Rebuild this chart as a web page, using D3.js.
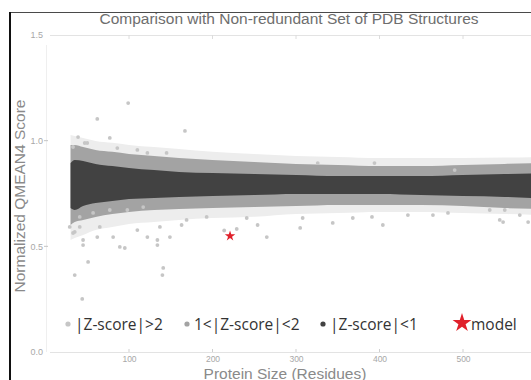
<!DOCTYPE html>
<html>
<head>
<meta charset="utf-8">
<script src="https://cdn.jsdelivr.net/npm/d3@7"></script>
<style>
  html, body { margin: 0; padding: 0; background: #fff; }
  svg { display: block; }
</style>
</head>
<body>
<svg id="chart" width="531" height="380"></svg>
<script>
// Reference set: envelopes of the PDB point cloud by protein size (residues)
const bandSizes = [30, 35, 45, 60, 80, 100, 130, 160, 200, 250, 300, 350, 400, 450, 500, 550, 600];
// |Z-score| < 1 envelope
const darkHi = [0.894, 0.909, 0.904, 0.890, 0.880, 0.871, 0.861, 0.852, 0.847, 0.842, 0.838, 0.833, 0.833, 0.833, 0.838, 0.842, 0.847];
const darkLo = [0.681, 0.672, 0.691, 0.705, 0.715, 0.724, 0.729, 0.734, 0.738, 0.743, 0.748, 0.748, 0.748, 0.743, 0.738, 0.734, 0.724];
// 1 < |Z-score| < 2 envelope
const midHi = [0.980, 0.980, 0.970, 0.956, 0.947, 0.937, 0.928, 0.918, 0.909, 0.899, 0.890, 0.885, 0.880, 0.880, 0.885, 0.890, 0.894];
const midLo = [0.601, 0.615, 0.625, 0.639, 0.653, 0.663, 0.672, 0.677, 0.681, 0.686, 0.691, 0.696, 0.696, 0.696, 0.691, 0.681, 0.677];
// dense part of the |Z-score| > 2 fringe
const lightHi = [1.027, 1.022, 1.013, 0.999, 0.990, 0.980, 0.970, 0.961, 0.947, 0.937, 0.928, 0.923, 0.918, 0.918, 0.918, 0.920, 0.923];
const lightLo = [0.530, 0.540, 0.554, 0.577, 0.592, 0.606, 0.615, 0.625, 0.634, 0.640, 0.653, 0.658, 0.663, 0.663, 0.658, 0.653, 0.648];

// Individual |Z-score| > 2 structures
const outlierSizes = [99, 62, 167, 39, 50, 77, 326, 394, 490, 45, 51, 35, 44, 141, 140, 95, 122, 134, 81, 62, 41, 35,
  305, 308, 344, 404, 434, 464, 482, 544, 550, 568, 368, 391, 532, 548, 578, 169, 193, 241, 254, 265, 163, 229, 214,
  47, 33, 86, 110, 122, 145, 41, 57, 77, 98, 117, 65, 110, 137, 149, 33, 29, 45, 89, 134];
const outlierScores = [1.178, 1.103, 1.046, 1.017, 0.989, 1.013, 0.894, 0.894, 0.861, 0.506, 0.426, 0.364, 0.251, 0.398, 0.364, 0.492, 0.544, 0.530, 0.544, 0.544, 0.592, 0.568,
  0.587, 0.634, 0.611, 0.601, 0.648, 0.648, 0.658, 0.625, 0.672, 0.648, 0.634, 0.639, 0.672, 0.615, 0.615, 0.625, 0.639, 0.634, 0.601, 0.544, 0.601, 0.582, 0.575,
  0.989, 0.970, 0.965, 0.956, 0.942, 0.942, 0.639, 0.658, 0.672, 0.672, 0.686, 0.592, 0.577, 0.592, 0.544, 0.563, 0.592, 0.530, 0.497, 0.506];

// The model being assessed
const modelSize = [221];
const modelScore = [0.549];

const xTicks = [100, 200, 300, 400, 500];
const yTicks = [0.0, 0.5, 1.0, 1.5];
const legendLabels = ["|Z-score|>2", "1<|Z-score|<2", "|Z-score|<1", "model"];

const colors = { light: "#c6c6c6", mid: "#a3a3a3", dark: "#424242", model: "#e0212b" };

const svg = d3.select("#chart");
const x = d3.scaleLinear().domain([0, 600]).range([45.5, 546.5]);
const y = d3.scaleLinear().domain([0, 1.5]).range([352, 35]);

// frame edges
svg.append("line").attr("x1", 9).attr("x2", 531).attr("y1", 12.5).attr("y2", 12.5)
  .attr("stroke", "#4a4a4a").attr("stroke-width", 1.2);
svg.append("line").attr("x1", 10).attr("x2", 10).attr("y1", 12).attr("y2", 380)
  .attr("stroke", "#111").attr("stroke-width", 2);

// faint panel guides
svg.append("line").attr("x1", 46.5).attr("x2", 46.5).attr("y1", 45).attr("y2", 352)
  .attr("stroke", "#efefef");
[0, 1.5].forEach(v => {
  svg.append("line").attr("x1", 50).attr("x2", 531).attr("y1", y(v) + 0.5).attr("y2", y(v) + 0.5)
    .attr("stroke", "#e3e3e3");
});

// x axis
const xAxis = d3.axisBottom(x).tickValues(xTicks).tickSize(0).tickPadding(4);
const gx = svg.append("g").attr("transform", `translate(0,${y(0)})`).call(xAxis);
gx.select(".domain").remove();
gx.selectAll("text").attr("font-family", "Liberation Sans, Arial, sans-serif")
  .attr("font-size", 8.5).attr("fill", "#a8a8a8");
xTicks.forEach(t => {
  svg.append("line").attr("x1", x(t)).attr("x2", x(t)).attr("y1", y(0) - 3).attr("y2", y(0))
    .attr("stroke", "#cfcfcf");
  svg.append("line").attr("x1", x(t)).attr("x2", x(t)).attr("y1", y(1.5)).attr("y2", y(1.5) + 4)
    .attr("stroke", "#dcdcdc");
});

// y axis
const yAxis = d3.axisLeft(y).tickValues(yTicks).tickFormat(d3.format(".1f")).tickSize(0).tickPadding(0);
const gy = svg.append("g").attr("transform", "translate(43,0)").call(yAxis);
gy.select(".domain").remove();
gy.selectAll("text").attr("font-family", "Liberation Sans, Arial, sans-serif")
  .attr("font-size", 9).attr("fill", "#a8a8a8");
[0.5, 1.0].forEach(v => {
  svg.append("line").attr("x1", 44).attr("x2", 48).attr("y1", y(v)).attr("y2", y(v))
    .attr("stroke", "#c4c4c4");
});

// point cloud bands
const bands = [
  { hi: lightHi, lo: lightLo, fill: "#ededed" },
  { hi: midHi, lo: midLo, fill: colors.mid },
  { hi: darkHi, lo: darkLo, fill: colors.dark }
];
const area = d3.area()
  .x(d => x(d.r)).y0(d => y(d.lo)).y1(d => y(d.hi))
  .curve(d3.curveMonotoneX);
bands.forEach(b => {
  const rows = bandSizes.map((r, i) => ({ r, hi: b.hi[i], lo: b.lo[i] }));
  svg.append("path").datum(rows).attr("d", area).attr("fill", b.fill);
});

// outliers
svg.append("g").selectAll("circle")
  .data(outlierSizes.map((r, i) => ({ r, v: outlierScores[i] })))
  .join("circle")
  .attr("cx", d => x(d.r)).attr("cy", d => y(d.v)).attr("r", 1.9)
  .attr("fill", colors.light);

// model star
svg.append("g").selectAll("path")
  .data(modelSize.map((r, i) => ({ r, v: modelScore[i] })))
  .join("path")
  .attr("transform", d => `translate(${x(d.r)},${y(d.v)})`)
  .attr("d", d3.symbol(d3.symbolStar, 34)())
  .attr("fill", colors.model);

// title and axis titles
svg.append("text").attr("x", 289).attr("y", 24).attr("text-anchor", "middle")
  .attr("font-family", "Liberation Sans, Arial, sans-serif").attr("font-size", 15.5)
  .attr("fill", "#6e6e6e").text("Comparison with Non-redundant Set of PDB Structures");
svg.append("text").attr("x", 285).attr("y", 378.5).attr("text-anchor", "middle")
  .attr("font-family", "Liberation Sans, Arial, sans-serif").attr("font-size", 15.5)
  .attr("fill", "#8a8a8a").text("Protein Size (Residues)");
svg.append("text").attr("transform", "translate(25,196) rotate(-90)").attr("text-anchor", "middle")
  .attr("font-family", "Liberation Sans, Arial, sans-serif").attr("font-size", 15.5)
  .attr("fill", "#8a8a8a").text("Normalized QMEAN4 Score");

// legend
const legendItems = [
  { label: legendLabels[0], color: colors.light, kind: "dot", x: 68 },
  { label: legendLabels[1], color: colors.mid, kind: "dot", x: 187 },
  { label: legendLabels[2], color: colors.dark, kind: "dot", x: 323 },
  { label: legendLabels[3], color: colors.model, kind: "star", x: 462 }
];
const lg = svg.append("g").attr("transform", "translate(0,324)");
legendItems.forEach(it => {
  if (it.kind === "dot") {
    lg.append("circle").attr("cx", it.x).attr("cy", 0).attr("r", 2.6).attr("fill", it.color);
  } else {
    lg.append("path").attr("transform", `translate(${it.x},-1)`)
      .attr("d", d3.symbol(d3.symbolStar, 110)()).attr("fill", it.color);
  }
  lg.append("text").attr("x", it.x + (it.kind === "star" ? 9 : 7)).attr("y", 5.5)
    .attr("font-family", "Open Sans, sans-serif").attr("font-size", 15.5)
    .attr("fill", "#333").text(it.label);
});
</script>
</body>
</html>
